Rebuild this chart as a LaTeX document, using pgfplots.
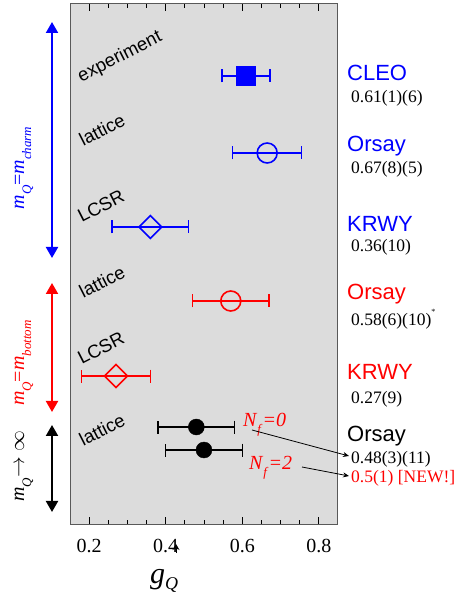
\documentclass[border=0pt]{standalone}
\usepackage{pgfplots}
\pgfplotsset{compat=1.18}
\usepackage{fontspec}
\setmainfont{Liberation Serif}
\setsansfont{Liberation Sans}
\usetikzlibrary{arrows.meta}
\definecolor{bgray}{RGB}{220,220,220}
\definecolor{pblue}{RGB}{0,0,255}
\definecolor{pred}{RGB}{255,0,0}
\newcommand\sub[1]{\raisebox{-0.35em}{\fontsize{13}{14}\selectfont #1}}
\pgfplotsset{eb/.style={error bars/.cd, x dir=both, x explicit, error mark=-,
  error bar style={line width=1.5pt, #1},
  error mark options={rotate=90, line width=1.5pt, mark size=6.5pt, #1}}}
\begin{document}
\begin{tikzpicture}[x=1pt,y=1pt]
\begin{axis}[name=ax, anchor=south west, width=268pt, height=520pt, scale only axis,
 xmin=0.15,xmax=0.85,ymin=-524,ymax=-4,
 axis background/.style={fill=bgray},
 axis line style={black!65, line width=1pt},
 ytick=\empty, xtick={0.2,0.4,0.6,0.8}, minor x tick num=3,
 xtick pos=both, tick align=inside,
 major tick length=7pt, minor tick length=4pt,
 every tick/.style={black, line width=0.8pt},
 xticklabel style={font=\fontsize{20}{24}\selectfont, yshift=-12pt},
 /pgf/number format/assume math mode=true,
 /pgf/number format/fixed,
 clip=false]
% CLEO
\addplot[pblue, only marks, mark=square*, mark size=9.5pt, eb=pblue]
  table[x=x,y=y,x error=ex] {
x y ex
0.61 -76 0.063
};
% Orsay blue
\addplot[pblue, only marks, mark=o, mark size=10pt, mark options={line width=1.6pt, fill=none}, eb=pblue]
  table[x=x,y=y,x error=ex] {
x y ex
0.665 -153 0.09
};
% KRWY blue
\addplot[pblue, only marks, mark=square, mark size=8.1pt, mark options={rotate=45, line width=1.6pt}, eb=pblue]
  table[x=x,y=y,x error=ex] {
x y ex
0.36 -227 0.10
};
% Orsay red
\addplot[pred, only marks, mark=o, mark size=10pt, mark options={line width=1.6pt, fill=none}, eb=pred]
  table[x=x,y=y,x error=ex] {
x y ex
0.57 -301 0.10
};
% KRWY red
\addplot[pred, only marks, mark=square, mark size=8.1pt, mark options={rotate=45, line width=1.6pt}, eb=pred]
  table[x=x,y=y,x error=ex] {
x y ex
0.27 -376 0.09
};
% Orsay static limit
\addplot[black, only marks, mark=*, mark size=8pt, eb=black]
  table[x=x,y=y,x error=ex] {
x y ex
0.48 -427 0.10
0.50 -450 0.10
};
\end{axis}
\begin{scope}[shift={(ax.south west)}, xshift=-70pt, yshift=524pt]
\path (0,0) rectangle (463,-598);
% method labels
\begin{scope}[every node/.style={inner sep=0pt, rotate=27, font=\sffamily\fontsize{18.5}{20}\selectfont}]
\node at (120,-57) {experiment};
\node at (102,-130) {lattice};
\node at (101,-206) {LCSR};
\node at (102,-282) {lattice};
\node at (101,-348) {LCSR};
\node at (102,-430) {lattice};
\end{scope}
% left arrows
\draw[pblue, line width=2pt, {Triangle[width=12pt,length=11pt]}-{Triangle[width=12pt,length=11pt]}] (52,-22) -- (52,-258);
\draw[pred, line width=2pt, {Triangle[width=12pt,length=11pt]}-{Triangle[width=12pt,length=11pt]}] (52,-283) -- (52,-412);
\draw[black, line width=2pt, {Triangle[width=12pt,length=11pt]}-{Triangle[width=12pt,length=11pt]}] (52,-425) -- (52,-512);
\begin{scope}[every node/.style={inner sep=0pt, rotate=90, font=\fontsize{20}{22}\selectfont}]
\node[pblue] at (24,-168) {\textit{m}\sub{\textit{Q}}=\textit{m}\sub{\textit{charm}}};
\node[pred] at (24,-363) {\textit{m}\sub{\textit{Q}}=\textit{m}\sub{\textit{bottom}}};
\node[black] at (24,-466) {\textit{m}\sub{\textit{Q}}$\rightarrow\infty$};
\end{scope}
% right labels
\begin{scope}[every node/.style={inner sep=0pt, anchor=west}]
\node[pblue, font=\sffamily\fontsize{22}{24}\selectfont] at (347,-73) {CLEO};
\node[font=\fontsize{17.5}{19}\selectfont] at (351,-98) {0.61(1)(6)};
\node[pblue, font=\sffamily\fontsize{22}{24}\selectfont] at (347,-146) {Orsay};
\node[font=\fontsize{17.5}{19}\selectfont] at (351,-169) {0.67(8)(5)};
\node[pblue, font=\sffamily\fontsize{22}{24}\selectfont] at (347,-224) {KRWY};
\node[font=\fontsize{17.5}{19}\selectfont] at (351,-247) {0.36(10)};
\node[pred, font=\sffamily\fontsize{22}{24}\selectfont] at (347,-294) {Orsay};
\node[font=\fontsize{17.5}{19}\selectfont] at (351,-319) {0.58(6)(10)\raisebox{0.6em}{\fontsize{8}{9}\selectfont *}};
\node[pred, font=\sffamily\fontsize{22}{24}\selectfont] at (347,-372) {KRWY};
\node[font=\fontsize{17.5}{19}\selectfont] at (351,-399) {0.27(9)};
\node[black, font=\sffamily\fontsize{22}{24}\selectfont] at (347,-436) {Orsay};
\node[font=\fontsize{17.5}{19}\selectfont] at (351,-459) {0.48(3)(11)};
\node[pred, font=\fontsize{17.5}{19}\selectfont] at (351,-478) {0.5(1) [NEW!]};
\end{scope}
% Nf labels
\node[pred, inner sep=0pt, anchor=base west, font=\fontsize{20}{22}\selectfont] at (243,-427) {\textit{N}\sub{\textit{f}}\textit{=0}};
\node[pred, inner sep=0pt, anchor=base west, font=\fontsize{20}{22}\selectfont] at (249,-470) {\textit{N}\sub{\textit{f}}\textit{=2}};
\draw[black, line width=0.8pt, -{Stealth[length=6pt,width=5pt]}] (252,-430) -- (349,-456);
\draw[black, line width=0.8pt, -{Stealth[length=6pt,width=5pt]}] (302,-467) -- (349,-476);
% axis label
\node[inner sep=0pt, anchor=base west] at (150,-583) {\fontsize{30}{34}\selectfont\textit{g}\raisebox{-6pt}{\fontsize{18}{20}\selectfont\textit{Q}}};
\draw[black, line width=0.8pt, -{Stealth[length=6pt,width=7pt]}] (176,-553) -- (176,-544);
\end{scope}
\end{tikzpicture}
\end{document}
